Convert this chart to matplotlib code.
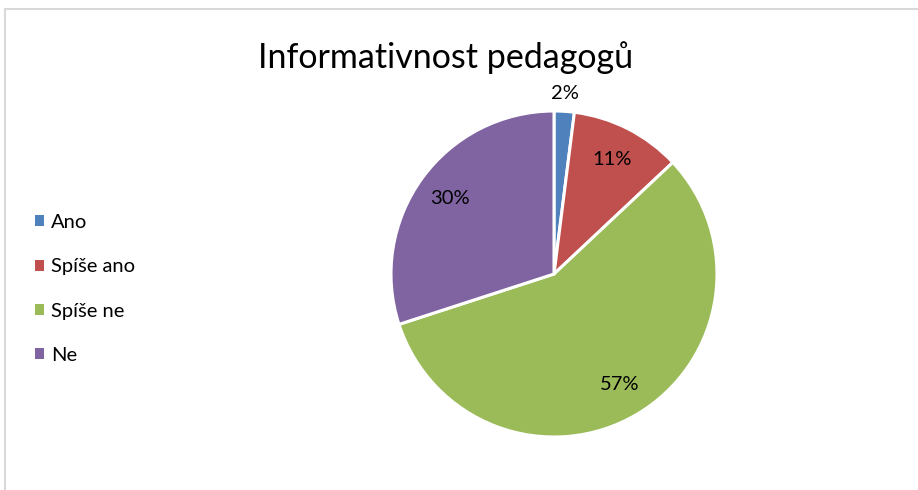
import matplotlib
matplotlib.use("Agg")
import matplotlib.pyplot as plt
from matplotlib.patches import Patch, Rectangle
import numpy as np

categories = ["Ano", "Spíše ano", "Spíše ne", "Ne"]
values = [2, 11, 57, 30]
colors = ["#4F81BD", "#C0504D", "#9BBB59", "#8064A2"]
title = "Informativnost pedagogů"

plt.rcParams['font.family'] = ['Lato', 'DejaVu Sans']

W, H = 918, 490
fig = plt.figure(figsize=(W / 100, H / 100), dpi=100)
fig.patch.set_facecolor("white")

# border (extends past right/bottom edges, as in reference)
fig.patches.append(Rectangle((4.5 / W, -0.2), 1.5, 1 - 9.5 / H + 0.2,
                             transform=fig.transFigure, fill=False,
                             edgecolor="#D9D9D9", linewidth=1.5))

cx, cy, r = 554, H - 274, 163
lim = 1.02
ax = fig.add_axes([(cx - r * lim) / W, (cy - r * lim) / H,
                   2 * r * lim / W, 2 * r * lim / H])

wedges, texts, autotexts = ax.pie(
    values, colors=colors, startangle=90, counterclock=False,
    autopct=lambda p: f"{p:.0f}%", pctdistance=0.79,
    wedgeprops=dict(edgecolor="white", linewidth=2.2),
    textprops=dict(fontsize=14.5, color="black"))
ax.set_xlim(-lim, lim)
ax.set_ylim(-lim, lim)
ax.set_aspect("equal")
ax.axis("off")

# small slice label goes outside
x, y = autotexts[0].get_position()
autotexts[0].set_position((x * 1.11 / 0.79, y * 1.11 / 0.79))

fig.text(446 / W, 1 - 58 / H, title, ha="center", va="center",
         fontsize=24.5, color="black")

handles = [Patch(facecolor=c, edgecolor="none") for c in colors]
fig.legend(handles, categories, loc="center left",
           bbox_to_anchor=(17 / W, 1 - 289 / H), frameon=False,
           fontsize=14.5, handlelength=0.45, handleheight=0.45,
           handletextpad=0.35, labelspacing=1.36)

fig.savefig("out.png", dpi=100)
